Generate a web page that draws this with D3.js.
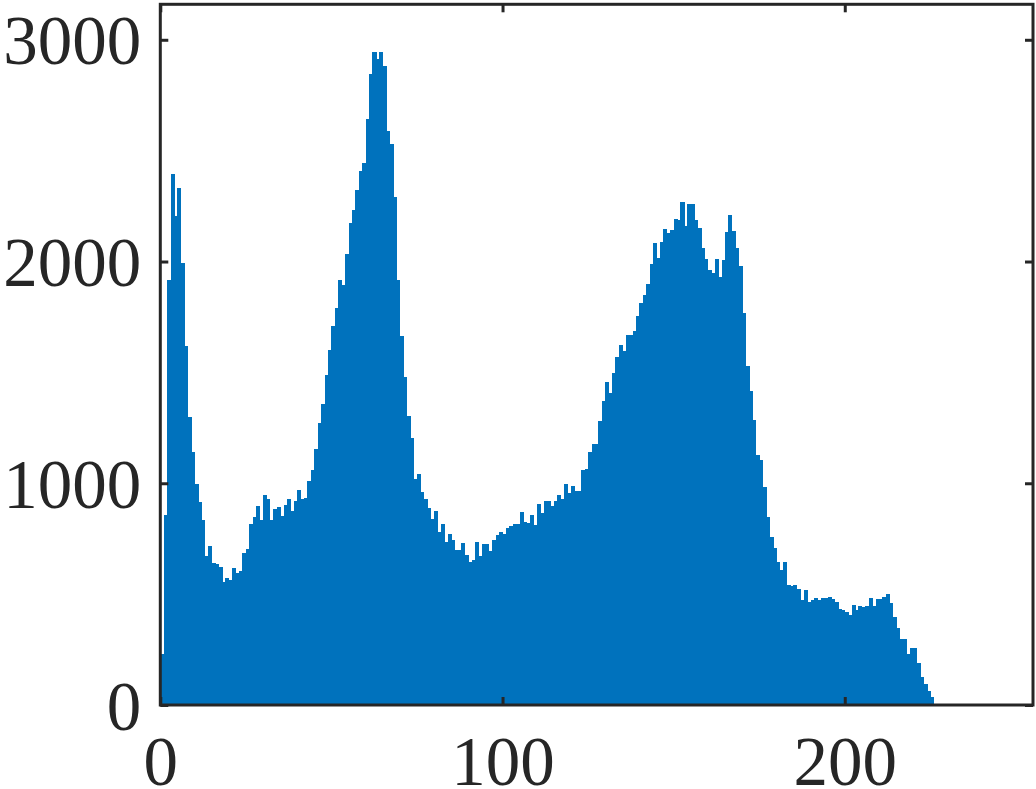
<!DOCTYPE html>
<html>
<head>
<meta charset="utf-8">
<script src="https://cdn.jsdelivr.net/npm/d3@7"></script>
<style>
  body { margin: 0; background: #fff; }
  svg { display: block; }
  .axis text { font-family: "Liberation Serif", "Times New Roman", serif; font-size: 69px; fill: #262626; }
  .axis line { stroke: #262626; stroke-width: 3; }
</style>
</head>
<body>
<div id="chart"></div>
<script>
// grey level histogram, one count per level 0..255
var counts = [
  232, 857, 1915, 2393, 2204, 2330, 1995, 1620, 1298, 1142,
  997, 916, 833, 671, 718, 642, 634, 622, 554, 573,
  562, 618, 594, 605, 686, 702, 815, 847, 897, 833,
  948, 928, 836, 884, 892, 853, 902, 931, 876, 921,
  970, 927, 935, 1009, 1058, 1156, 1273, 1357, 1488, 1601,
  1709, 1790, 1917, 1892, 2035, 2175, 2234, 2322, 2406, 2445,
  2644, 2845, 2947, 2914, 2947, 2884, 2587, 2529, 2289, 1917,
  1664, 1478, 1302, 1205, 1019, 1041, 961, 931, 889, 841,
  876, 778, 818, 733, 769, 746, 698, 698, 731, 676,
  646, 656, 736, 671, 725, 728, 695, 743, 766, 781,
  773, 799, 806, 815, 818, 871, 826, 821, 856, 811,
  906, 864, 919, 921, 897, 919, 946, 930, 998, 957,
  988, 965, 965, 1059, 1064, 1143, 1175, 1175, 1281, 1371,
  1456, 1409, 1497, 1570, 1624, 1596, 1668, 1668, 1688, 1756,
  1814, 1848, 1900, 1990, 2082, 2015, 2090, 2148, 2129, 2140,
  2194, 2186, 2270, 2162, 2260, 2260, 2187, 2153, 2062, 2012,
  1962, 1948, 2010, 1928, 2008, 2132, 2212, 2138, 2060, 1980,
  1767, 1528, 1418, 1287, 1129, 1105, 983, 848, 759, 706,
  645, 610, 645, 539, 536, 542, 523, 475, 520, 466,
  474, 481, 474, 484, 484, 489, 477, 466, 432, 429,
  421, 406, 451, 429, 447, 441, 447, 484, 447, 480,
  480, 486, 501, 462, 399, 349, 296, 296, 229, 259,
  259, 188, 128, 93, 65, 35, 0, 0, 0, 0,
  0, 0, 0, 0, 0, 0, 0, 0, 0, 0,
  0, 0, 0, 0, 0, 0, 0, 0, 0, 0,
  0, 0, 0, 0, 0, 0
];
var xTicks = [0, 100, 200];
var yTicks = [0, 1000, 2000, 3000];
var xLim = [0, 255], yLim = [0, 3160];

var W = 1036, H = 789;
var margin = {top: 4.3, right: 3, bottom: 84, left: 160.3};
var width = W - margin.left - margin.right,
    height = H - margin.top - margin.bottom;

var svg = d3.select("#chart").append("svg")
    .attr("width", W)
    .attr("height", H);

var g = svg.append("g")
    .attr("transform", "translate(" + margin.left + "," + margin.top + ")");

var x = d3.scaleLinear().domain(xLim).range([0, width]);
var y = d3.scaleLinear().domain(yLim).range([height, 0]);

// bars, one per level (slight overlap so no seams show)
g.append("g")
    .attr("shape-rendering", "crispEdges")
    .selectAll("rect")
    .data(counts)
    .enter().append("rect")
    .attr("x", function(d, i) { return x(i); })
    .attr("width", function(d, i) { return x(i + 1) - x(i) + 0.6; })
    .attr("y", function(d) { return y(d); })
    .attr("height", function(d) { return height - y(d); })
    .attr("fill", "#0072BD");

// ticks point inward on all four sides
var bottom = g.append("g").attr("class", "axis")
    .attr("transform", "translate(0," + height + ")")
    .call(d3.axisBottom(x).tickValues(xTicks).tickSize(-8).tickFormat(d3.format("d")));
bottom.selectAll("text").attr("y", 0).attr("dy", 80);

var left = g.append("g").attr("class", "axis")
    .call(d3.axisLeft(y).tickValues(yTicks).tickSize(-8).tickFormat(d3.format("d")));
left.selectAll("text").attr("x", -19).attr("dy", 24);

g.append("g").attr("class", "axis")
    .call(d3.axisTop(x).tickValues(xTicks).tickSize(-8).tickFormat(""));

g.append("g").attr("class", "axis")
    .attr("transform", "translate(" + width + ",0)")
    .call(d3.axisRight(y).tickValues(yTicks).tickSize(-8).tickFormat(""));

g.selectAll(".axis .domain").remove();

// box
g.append("rect")
    .attr("x", 0).attr("y", 0)
    .attr("width", width).attr("height", height)
    .attr("fill", "none")
    .attr("stroke", "#262626")
    .attr("stroke-width", 3);
</script>
</body>
</html>
